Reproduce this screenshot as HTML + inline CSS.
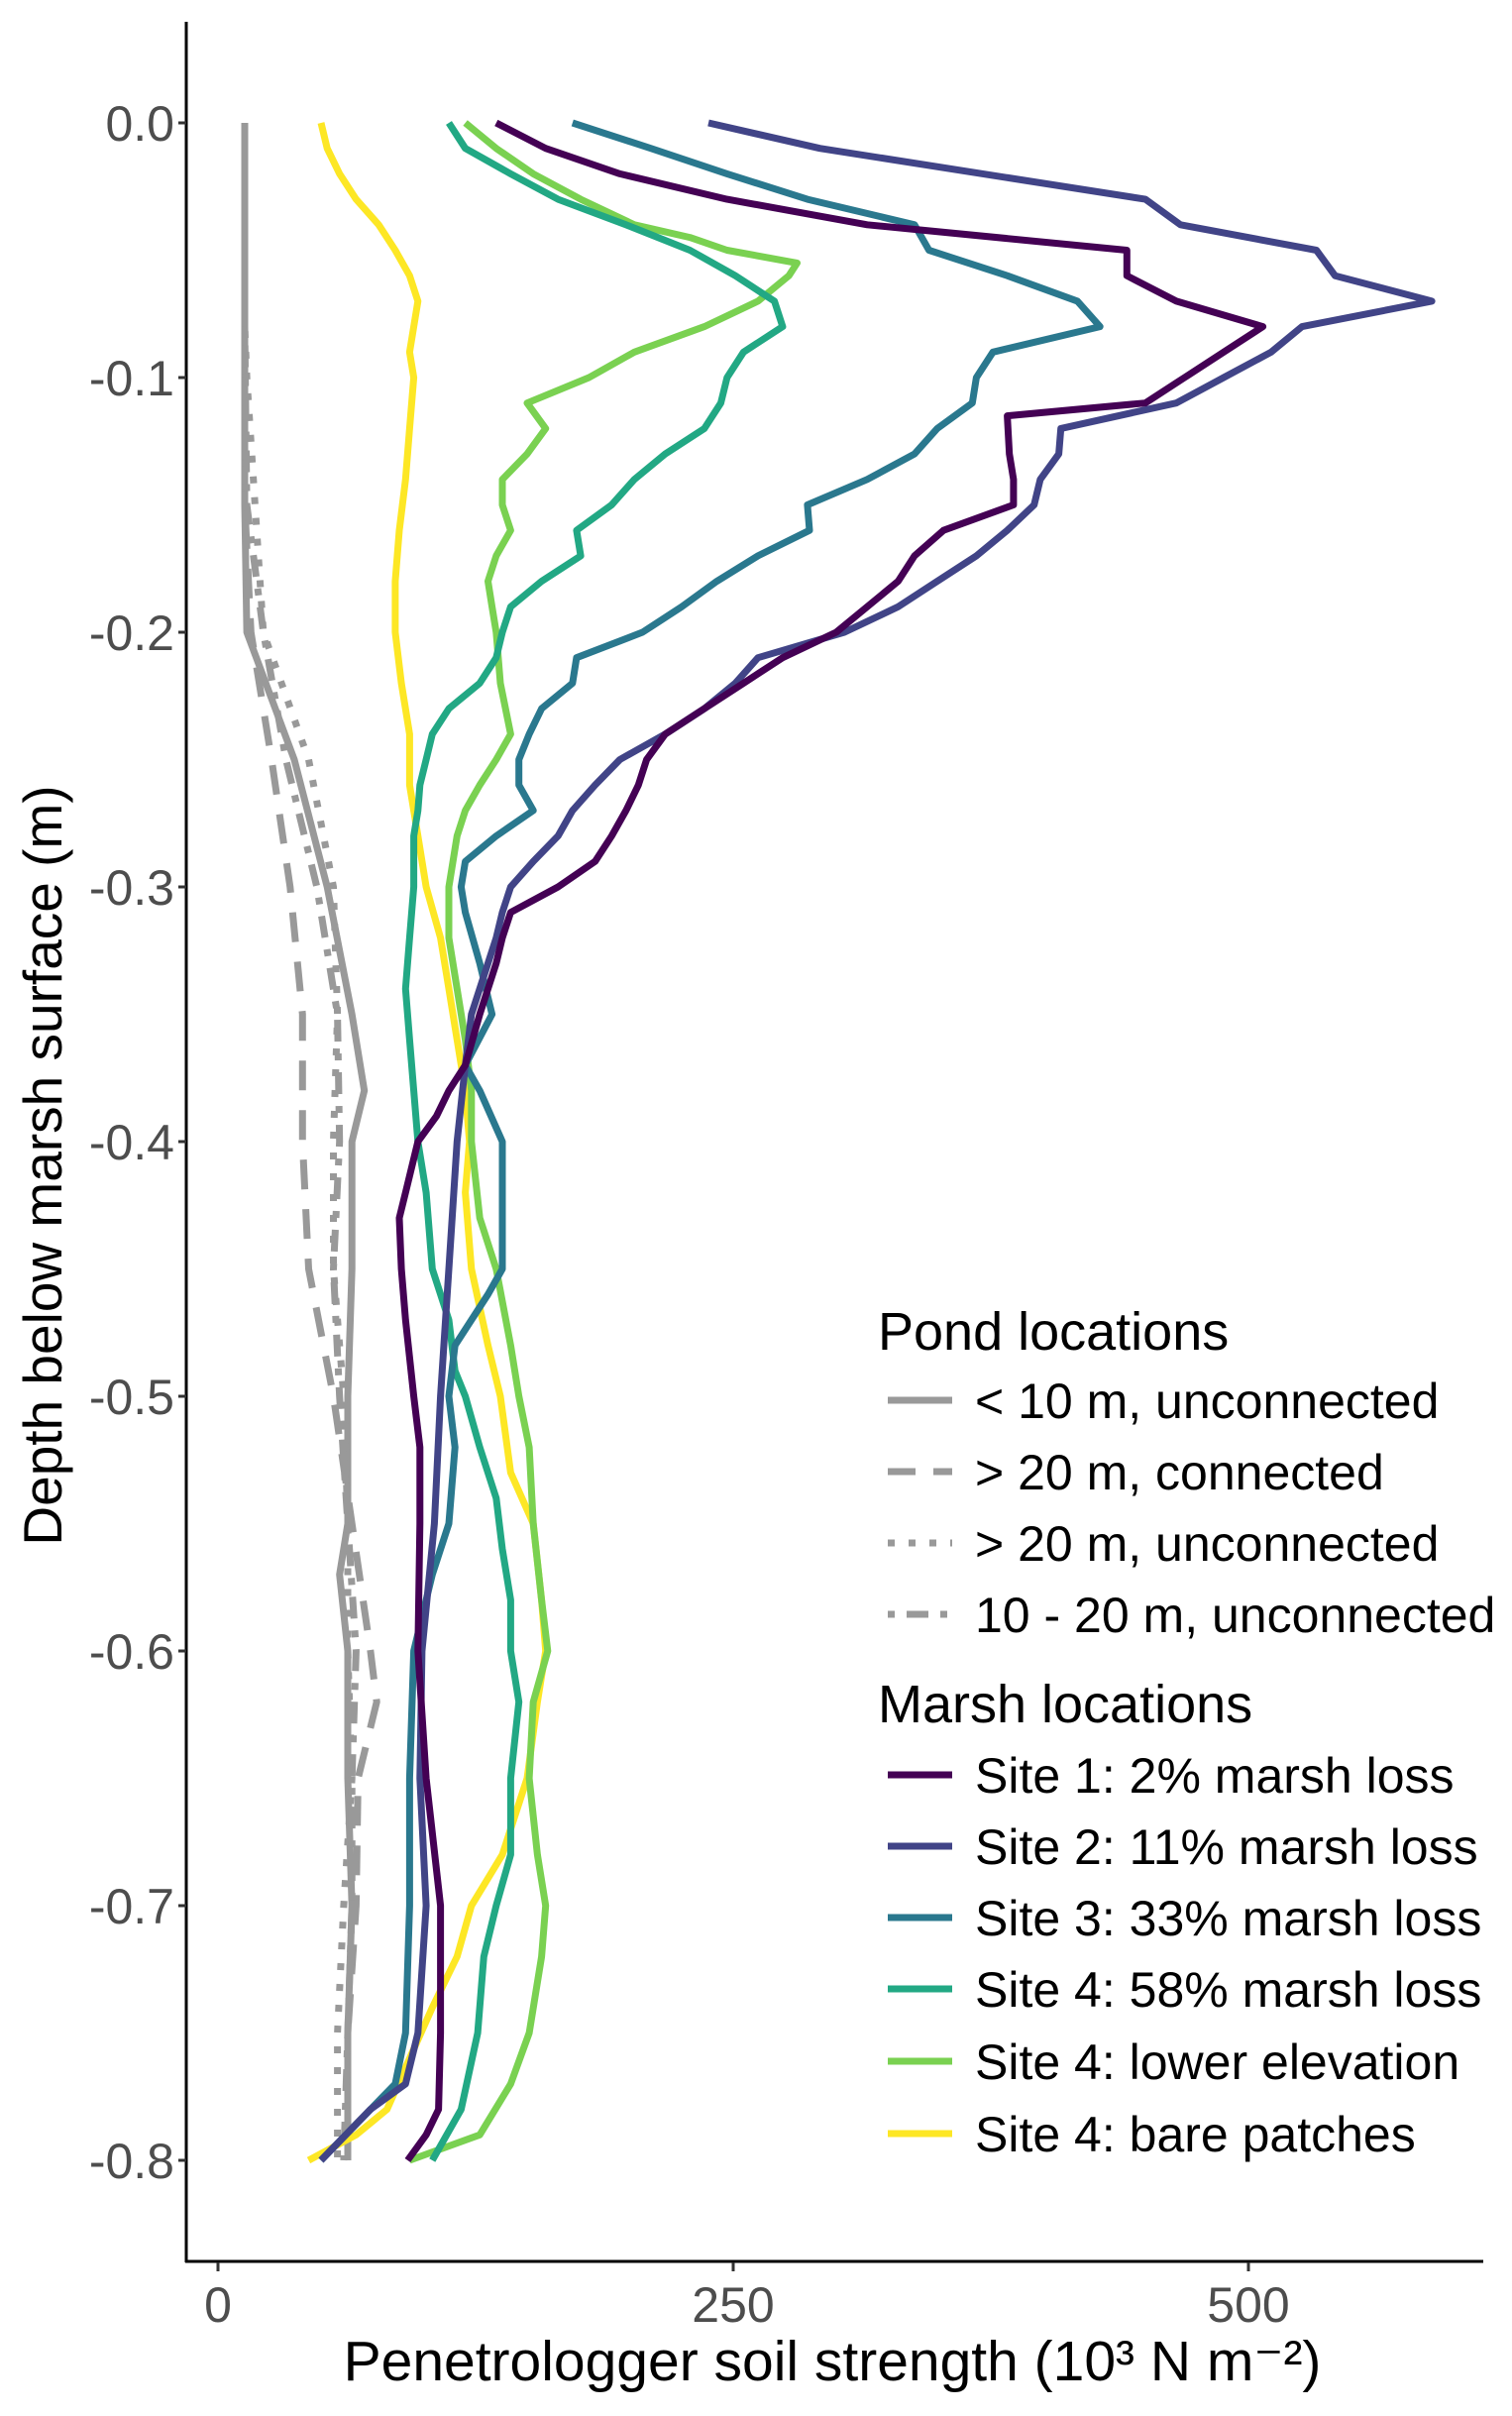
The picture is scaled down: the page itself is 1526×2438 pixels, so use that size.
<!DOCTYPE html>
<html><head><meta charset="utf-8"><style>
html,body{margin:0;padding:0;background:#fff;}
svg{display:block;font-family:"Liberation Sans",sans-serif;}
</style></head><body>
<svg id="chart" width="1526" height="2438" viewBox="0 0 1526 2438">
<g id="grid"></g>
<g id="series"></g>
<g id="axes"></g>
<g id="legend"></g>
</svg>
<script>
// ---- data ----
const xTicks = [0, 250, 500];
const yTicks = [0.0, -0.1, -0.2, -0.3, -0.4, -0.5, -0.6, -0.7, -0.8];
const site1Depth = [0,0.01,0.02,0.03,0.04,0.05,0.06,0.07,0.08,0.09,0.1,0.11,0.115,0.13,0.14,0.15,0.16,0.17,0.18,0.19,0.2,0.21,0.22,0.23,0.24,0.25,0.26,0.27,0.28,0.29,0.3,0.31,0.32,0.33,0.35,0.37,0.38,0.39,0.4,0.42,0.43,0.45,0.47,0.5,0.52,0.55,0.6,0.65,0.7,0.75,0.78,0.79,0.8];
const site1Val = [135,159,195,247,315,441,441,465,507,488,469,450,383,384,386,386,352,338,330,315,300,274,255,236,217,208,204,198,191,183,165,142,138,135,127,120,112,106,97,91,88,89,91,95,98,98,97,101,108,108,107,101,92];
const site2Depth = [0,0.01,0.03,0.04,0.05,0.06,0.07,0.08,0.09,0.1,0.11,0.12,0.13,0.14,0.15,0.16,0.17,0.18,0.19,0.2,0.21,0.22,0.23,0.24,0.25,0.26,0.27,0.28,0.29,0.3,0.31,0.32,0.33,0.35,0.37,0.4,0.45,0.5,0.55,0.6,0.65,0.7,0.75,0.77,0.78,0.8];
const site2Val = [238,292,450,467,533,542,589,526,511,488,465,409,408,399,396,383,368,349,330,304,262,251,236,217,195,183,172,165,153,142,138,135,131,123,120,116,112,108,105,99,98,101,97,91,74,50];
const site3Depth = [0,0.01,0.02,0.03,0.04,0.05,0.06,0.07,0.08,0.09,0.1,0.11,0.12,0.13,0.14,0.15,0.16,0.17,0.18,0.19,0.2,0.21,0.22,0.23,0.24,0.25,0.26,0.27,0.28,0.29,0.3,0.31,0.33,0.35,0.37,0.38,0.4,0.43,0.45,0.46,0.48,0.5,0.52,0.55,0.57,0.6,0.65,0.7,0.75,0.77,0.8];
const site3Val = [172,210,247,286,338,345,383,417,428,376,368,366,349,338,315,286,287,262,242,225,206,174,172,157,151,146,146,153,135,120,118,120,127,133,120,127,138,138,138,131,115,112,115,112,104,95,93,93,91,86,50];
const site4Depth = [0,0.01,0.02,0.03,0.04,0.05,0.06,0.07,0.08,0.09,0.1,0.11,0.12,0.13,0.14,0.15,0.16,0.17,0.18,0.19,0.2,0.21,0.22,0.23,0.24,0.25,0.26,0.27,0.28,0.3,0.32,0.34,0.36,0.38,0.4,0.42,0.45,0.47,0.49,0.5,0.52,0.54,0.56,0.58,0.6,0.62,0.65,0.68,0.7,0.72,0.75,0.78,0.8];
const site4Val = [112,120,142,165,198,229,251,270,274,255,247,244,236,217,202,191,174,176,157,142,138,135,127,112,104,101,98,97,95,95,93,91,93,95,97,101,104,112,115,120,127,135,138,142,142,146,142,142,135,129,126,118,104];
const lowDepth = [0,0.01,0.02,0.03,0.04,0.045,0.05,0.055,0.06,0.07,0.08,0.09,0.1,0.11,0.12,0.13,0.14,0.15,0.16,0.17,0.18,0.19,0.2,0.22,0.24,0.25,0.26,0.27,0.28,0.3,0.32,0.34,0.36,0.38,0.4,0.43,0.45,0.48,0.5,0.52,0.55,0.58,0.6,0.62,0.65,0.68,0.7,0.72,0.75,0.77,0.79,0.8];
const lowVal = [120,135,153,176,202,229,247,281,277,262,236,202,180,150,159,150,138,138,142,135,131,133,135,137,142,135,127,120,116,112,112,116,120,123,123,127,135,142,146,151,153,157,160,153,151,155,159,157,151,142,127,93];
const bareDepth = [0,0.01,0.02,0.03,0.04,0.05,0.06,0.07,0.08,0.09,0.1,0.12,0.14,0.16,0.18,0.2,0.22,0.24,0.26,0.28,0.3,0.32,0.34,0.36,0.38,0.4,0.42,0.45,0.48,0.5,0.53,0.55,0.58,0.6,0.62,0.65,0.68,0.7,0.72,0.74,0.76,0.78,0.79,0.8];
const bareVal = [50,53,59,67,78,86,93,97,95,93,95,93,91,88,86,86,89,93,93,97,101,108,112,116,120,122,120,123,131,137,142,153,157,159,155,150,138,123,116,104,93,82,67,44];
const pondADepth = [0,0.15,0.2,0.25,0.3,0.35,0.38,0.4,0.45,0.5,0.55,0.57,0.6,0.65,0.7,0.75,0.8];
const pondAVal = [13,13,14,37,53,65,71,65,65,63,63,59,63,63,65,63,63];
const pondBDepth = [0,0.15,0.2,0.25,0.3,0.35,0.4,0.45,0.5,0.55,0.6,0.62,0.65,0.7,0.75,0.8];
const pondBVal = [13,13,16,26,35,41,41,44,56,65,74,77,68,67,63,63];
const pondCDepth = [0,0.08,0.1,0.15,0.2,0.25,0.3,0.35,0.4,0.45,0.5,0.55,0.6,0.65,0.7,0.75,0.8];
const pondCVal = [13,13,14,18,22,44,56,58,56,56,61,63,63,65,61,58,58];
const pondDDepth = [0.08,0.15,0.2,0.25,0.3,0.35,0.4,0.45,0.5,0.55,0.6,0.65,0.7,0.75,0.8];
const pondDVal = [13,14,22,33,48,58,59,56,59,63,67,65,65,63,61];

// ---- scales ----
const X0 = 220, XPER = 520/250;
const Y0 = 124, YPER = 2056/0.8;
const sx = v => X0 + v*XPER;
const sy = d => Y0 + d*YPER;   // d is positive depth below surface
const NS = "http://www.w3.org/2000/svg";
function mk(tag, attrs, parent){const e=document.createElementNS(NS,tag);for(const k in attrs)e.setAttribute(k,attrs[k]);parent.appendChild(e);return e;}

const seriesG = document.getElementById('series');
const series = [
 {name:'pond-under-10m-unconnected', d:pondADepth, v:pondAVal, c:'#999999', dash:null},
 {name:'pond-over-20m-connected', d:pondBDepth, v:pondBVal, c:'#999999', dash:'30 20'},
 {name:'pond-over-20m-unconnected', d:pondCDepth, v:pondCVal, c:'#999999', dash:'7 14'},
 {name:'pond-10-20m-unconnected', d:pondDDepth, v:pondDVal, c:'#999999', dash:'7 12 22 12'},
 {name:'site-4-bare-patches', d:bareDepth, v:bareVal, c:'#fde725', dash:null},
 {name:'site-4-lower-elevation', d:lowDepth, v:lowVal, c:'#7ad151', dash:null},
 {name:'site-4-58-percent', d:site4Depth, v:site4Val, c:'#22a884', dash:null},
 {name:'site-3-33-percent', d:site3Depth, v:site3Val, c:'#2a788e', dash:null},
 {name:'site-2-11-percent', d:site2Depth, v:site2Val, c:'#414487', dash:null},
 {name:'site-1-2-percent', d:site1Depth, v:site1Val, c:'#440154', dash:null}
];
series.forEach(s=>{
  const pts = s.d.map((d,i)=>sx(s.v[i]).toFixed(1)+','+sy(d).toFixed(1)).join(' ');
  const a = {points:pts, fill:'none', stroke:s.c, 'stroke-width':7, 'stroke-linejoin':'round'};
  if(s.dash) a['stroke-dasharray']=s.dash;
  const p = mk('polyline', a, seriesG);
  
  
});

// ---- axes ----
const ax = document.getElementById('axes');
let e = mk('line',{x1:188,y1:22,x2:188,y2:2283,stroke:'#000','stroke-width':3},ax);
 
e = mk('line',{x1:187,y1:2282,x2:1497,y2:2282,stroke:'#000','stroke-width':3},ax);
 
yTicks.forEach(t=>{
  const y = sy(-t);
  const tk = mk('line',{x1:180,y1:y,x2:188,y2:y,stroke:'#333','stroke-width':3},ax);
   
  const tx = mk('text',{x:176,y:y+18,'text-anchor':'end','font-size':50,fill:'#4d4d4d'},ax);
  tx.textContent = t.toFixed(1);
   
});
xTicks.forEach(t=>{
  const x = sx(t);
  const tk = mk('line',{x1:x,y1:2283,x2:x,y2:2292,stroke:'#333','stroke-width':3},ax);
   
  const tx = mk('text',{x:x,y:2343,'text-anchor':'middle','font-size':50,fill:'#4d4d4d'},ax);
  tx.textContent = String(t);
   
});
</script>
<svg style="position:absolute;left:0;top:0" width="1526" height="2438">
<text x="840" y="2402" text-anchor="middle" font-size="57" font-family="Liberation Sans, sans-serif" fill="#000">Penetrologger soil strength (10³ N m⁻²)</text>
<text transform="translate(62,1176) rotate(-90)" text-anchor="middle" font-size="55" font-family="Liberation Sans, sans-serif" fill="#000">Depth below marsh surface (m)</text>
<g font-family="Liberation Sans, sans-serif" font-size="50" fill="#000">
<text x="886" y="1362" font-size="54">Pond locations</text>
<line x1="896" y1="1413" x2="961" y2="1413" stroke="#999" stroke-width="7"/>
<text x="984" y="1431">&lt; 10 m, unconnected</text>
<line x1="896" y1="1485" x2="961" y2="1485" stroke="#999" stroke-width="7" stroke-dasharray="28 18"/>
<text x="984" y="1503">&gt; 20 m, connected</text>
<line x1="896" y1="1557" x2="961" y2="1557" stroke="#999" stroke-width="7" stroke-dasharray="7 14"/>
<text x="984" y="1575">&gt; 20 m, unconnected</text>
<line x1="896" y1="1629" x2="961" y2="1629" stroke="#999" stroke-width="7" stroke-dasharray="7 12 22 12"/>
<text x="984" y="1647">10 - 20 m, unconnected</text>
<text x="886" y="1738" font-size="54">Marsh locations</text>
<line x1="896" y1="1791" x2="961" y2="1791" stroke="#440154" stroke-width="7"/>
<text x="984" y="1809">Site 1: 2% marsh loss</text>
<line x1="896" y1="1863" x2="961" y2="1863" stroke="#414487" stroke-width="7"/>
<text x="984" y="1881">Site 2: 11% marsh loss</text>
<line x1="896" y1="1935" x2="961" y2="1935" stroke="#2a788e" stroke-width="7"/>
<text x="984" y="1953">Site 3: 33% marsh loss</text>
<line x1="896" y1="2007" x2="961" y2="2007" stroke="#22a884" stroke-width="7"/>
<text x="984" y="2025">Site 4: 58% marsh loss</text>
<line x1="896" y1="2080" x2="961" y2="2080" stroke="#7ad151" stroke-width="7"/>
<text x="984" y="2098">Site 4: lower elevation</text>
<line x1="896" y1="2153" x2="961" y2="2153" stroke="#fde725" stroke-width="7"/>
<text x="984" y="2171">Site 4: bare patches</text>
</g>
</svg>
</body></html>
